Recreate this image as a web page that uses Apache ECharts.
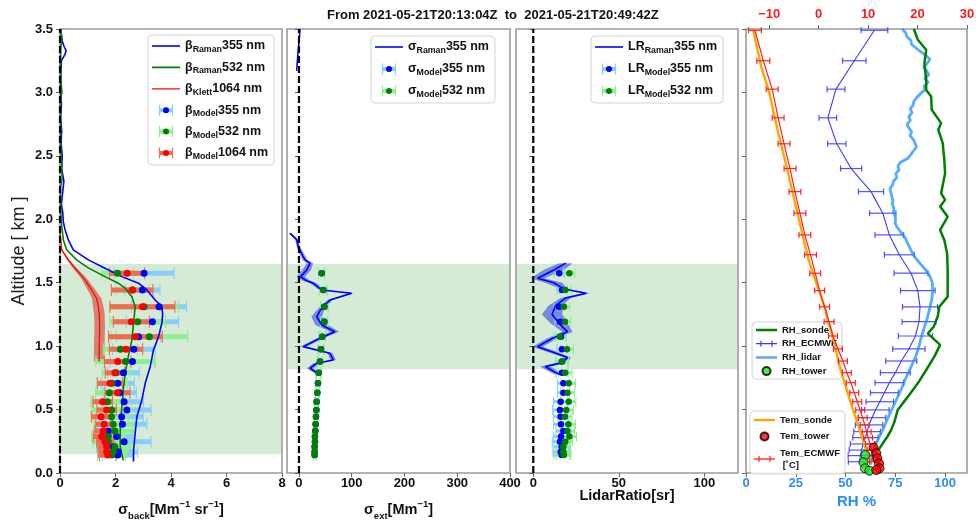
<!DOCTYPE html>
<html>
<head>
<meta charset="utf-8">
<script src="https://cdn.jsdelivr.net/npm/echarts/dist/echarts.min.js"></script>
<style>
  html, body { margin: 0; padding: 0; background: #ffffff; }
  #chart { width: 976px; height: 525px; }
</style>
</head>
<body>
<div id="chart"></div>
<script>
// ---------------------------------------------------------------
// Lidar aerosol profiles and humidity / temperature soundings
// ---------------------------------------------------------------
const TITLE = 'From 2021-05-21T20:13:04Z  to  2021-05-21T20:49:42Z';

// Aerosol layer limits used for the model retrieval (km)
const LAYER_BACK = [0.147, 1.648];
const LAYER_EXT = [0.818, 1.648];
const ZERO_LINE_ALT = [0, 3.5];

// Model retrieval levels (km)
const ALT_MODEL = [1.575, 1.443, 1.31, 1.193, 1.075, 0.975, 0.878, 0.79, 0.707, 0.633,
                   0.562, 0.497, 0.444, 0.384, 0.331, 0.287, 0.247, 0.207, 0.168, 0.142];

// Backscatter, model (Mm-1 sr-1)
const BETA_MODEL_355 = [3.03, 2.97, 3.57, 3.33, 2.83, 2.66, 2.61, 2.29, 2.08, 2.15,
                        2.31, 2.41, 2.22, 2.25, 1.74, 2.04, 2.31, 1.92, 2.10, 2.08];
const BETA_ERR_355 = [1.08, 0.63, 0.99, 0.94, 0.80, 0.77, 0.80, 0.57, 0.60, 0.60,
                      0.70, 0.87, 0.78, 0.88, 0.50, 0.60, 0.97, 0.60, 0.70, 0.55];
const BETA_MODEL_532 = [2.07, 2.62, 3.03, 2.80, 3.22, 2.18, 2.36, 2.02, 1.88, 1.78,
                        1.71, 1.86, 1.86, 1.92, 1.98, 1.74, 1.74, 1.98, 1.92, 1.86];
const BETA_ERR_532 = [0.57, 0.60, 1.24, 1.00, 1.38, 0.62, 1.07, 0.50, 0.55, 0.50,
                      0.60, 0.70, 0.60, 0.70, 0.70, 0.60, 0.55, 0.60, 0.50, 0.50];
const BETA_MODEL_1064 = [2.42, 2.60, 2.97, 2.57, 2.72, 2.38, 2.08, 1.98, 1.80, 2.07,
                         1.54, 1.68, 1.48, 1.59, 1.56, 1.50, 1.62, 1.68, 1.68, 1.72];
const BETA_ERR_1064 = [0.63, 0.75, 1.17, 0.65, 0.97, 0.60, 0.48, 0.35, 0.45, 0.45,
                       0.35, 0.35, 0.35, 0.30, 0.30, 0.30, 0.30, 0.30, 0.30, 0.30];

// Backscatter, Raman 355 nm
const ALT_RAMAN_355 = [3.50, 3.42, 3.36, 3.33, 3.30, 3.25, 3.15, 3.00, 2.90, 2.80, 2.70, 2.60, 2.50, 2.40,
                       2.30, 2.22, 2.12, 2.05, 1.98, 1.92, 1.837, 1.759, 1.68, 1.614, 1.548, 1.496, 1.443,
                       1.364, 1.312, 1.25, 1.18, 1.075, 0.97, 0.838, 0.707, 0.576, 0.444, 0.313, 0.181, 0.09];
const BETA_RAMAN_355 = [0.03, 0.06, 0.15, 0.22, 0.18, 0.05, 0.03, 0.02, 0.05, 0.02, 0.06, 0.04, 0.08, 0.06,
                        0.14, 0.10, 0.05, 0.10, 0.12, 0.18, 0.30, 0.48, 1.02, 1.62, 2.23, 2.83, 3.13,
                        3.43, 3.67, 3.70, 3.67, 3.55, 3.37, 3.25, 3.07, 2.95, 2.77, 2.71, 2.65, 2.65];
// Backscatter, Raman 532 nm
const ALT_RAMAN_532 = [3.50, 3.42, 3.36, 3.20, 3.10, 3.00, 2.95, 2.60, 2.32, 2.25, 2.05, 1.95, 1.837, 1.76,
                       1.68, 1.617, 1.548, 1.496, 1.457, 1.39, 1.31, 1.18, 1.049, 0.917, 0.786, 0.655,
                       0.523, 0.365, 0.207, 0.10];
const BETA_RAMAN_532 = [0.02, 0.08, 0.03, 0.02, 0.03, 0.07, 0.02, 0.02, 0.08, 0.02, 0.03, 0.06, 0.12, 0.24,
                        0.60, 1.02, 1.62, 2.10, 2.35, 2.59, 2.71, 2.65, 2.59, 2.46, 2.35, 2.28,
                        2.23, 2.17, 2.17, 2.28];
// Backscatter, Klett 1064 nm
const ALT_KLETT = [1.92, 1.85, 1.76, 1.68, 1.614, 1.55, 1.522, 1.443, 1.378, 1.31, 1.25, 1.15, 1.05, 0.95, 0.878];
const BETA_KLETT_1064 = [0.00, 0.02, 0.06, 0.30, 0.54, 0.80, 0.90, 1.14, 1.32, 1.38, 1.42, 1.43, 1.42, 1.41, 1.41];
const BETA_KLETT_ERR = [0.01, 0.02, 0.03, 0.05, 0.07, 0.10, 0.11, 0.14, 0.17, 0.19, 0.19, 0.19, 0.19, 0.19, 0.19];

// Extinction (Mm-1)
const ALT_EXT_RAMAN = [3.50, 3.42, 3.33, 3.25, 3.17, 2.50, 1.89, 1.84, 1.785, 1.73, 1.68, 1.654, 1.60, 1.548,
                       1.522, 1.496, 1.443, 1.417, 1.364, 1.299, 1.233, 1.167, 1.114, 1.062, 0.996, 0.97,
                       0.944, 0.891, 0.865, 0.826, 0.773];
const EXT_RAMAN_355 = [2.0, 0.5, -1.5, -3.0, -4.4, null, -17, -4.4, -1.3, 5.0, 11.4, 20.9, 14.6, 3.2,
                       11.4, 27, 43, 99.9, 58.8, 43, 33.5, 43, 68, 39.8, 8.2, 33.5,
                       58.8, 65, 33.5, 20.9, 39.8];
const EXT_RAMAN_ERR = [0, 0, 0, 0, 0, null, 3, 3, 3, 4, 5, 6, 8, 8,
                       8, 6, 5, 4, 5, 6, 10, 12, 8, 6, 6, 6,
                       5, 5, 6, 6, 5];
const EXT_MODEL_355 = [43, 46, 48, 48, 44.2, 41.7, 39.8, 37.3, 36, 34.8,
                       33.5, 33, 32.2, 31.6, 31, 30.3, 30.3, 29.7, 29.7, 29.7];
const EXT_MODEL_532 = [43, 46, 48, 48, 44.2, 41.7, 39.8, 37.3, 36, 34.8,
                       33.5, 33, 32.2, 31.6, 31, 30.3, 30.3, 29.7, 29.7, 29.7];
const EXT_MODEL_ERR = [6, 7, 7, 6.5, 6, 5.5, 5, 4.5, 4, 3.5,
                       3.2, 3, 3, 2.8, 2.6, 2.5, 2.5, 2.5, 2.5, 2.5];

// Lidar ratio (sr)
const ALT_LR_RAMAN = [1.654, 1.60, 1.535, 1.50, 1.45, 1.417, 1.38, 1.32, 1.25, 1.18, 1.114, 1.06,
                      0.996, 0.96, 0.91, 0.87, 0.84, 0.80, 0.775];
const LR_RAMAN_355 = [19, 12, 2.5, 12, 18, 31, 19, 13, 11, 15, 20, 11, 2.5, 10, 20, 17, 7, 12, 16];
const LR_RAMAN_ERR = [4, 6, 4, 5, 2, 2, 3, 4, 6, 5, 3, 3, 3, 3, 2, 3, 3, 3, 3];
const LR_MODEL_355 = [15.2, 16.8, 15.0, 15.6, 16.2, 16.8, 16.8, 16.8, 17.6, 17.6,
                      16.0, 15.6, 16.0, 16.2, 17.6, 16.2, 15.6, 16.6, 16.0, 16.6];
const LR_ERR_355 = [3, 3, 3, 3, 3, 3, 3.5, 3.5, 3.5, 3.5,
                    4.2, 4.3, 4.3, 4.4, 4.4, 4.5, 4.5, 4.5, 4.5, 4.5];
const LR_MODEL_532 = [21.1, 18.7, 17.9, 18.5, 15.6, 19.7, 16.8, 18.7, 20.7, 20.0,
                      20.7, 19.3, 18.5, 20.5, 19.9, 21.1, 18.7, 17.6, 17.6, 17.9];
const LR_ERR_532 = [3.2, 3.5, 3.5, 3.5, 3.8, 3.8, 3.8, 4, 4, 4,
                    4.2, 4.2, 4.2, 4.2, 4.2, 4.2, 4.2, 4.2, 4.2, 4.2];

// ECMWF profile levels (km), relative humidity (%) and temperature (deg C)
const ALT_ECMWF = [3.49, 3.25, 3.026, 2.80, 2.595, 2.40, 2.218, 2.048, 1.877, 1.72,
                   1.575, 1.438, 1.31, 1.193, 1.08, 0.978, 0.883, 0.791, 0.712, 0.633,
                   0.562, 0.497, 0.436, 0.379, 0.326, 0.279, 0.229, 0.181, 0.137, 0.089];
const RH_ECMWF = [64.5, 54.4, 45.2, 41.1, 45.6, 52.8, 62.8, 68.7, 72.0, 77.0,
                  82.9, 86.3, 87.4, 86.9, 85.1, 81.8, 78.0, 75.0, 72.0, 69.5,
                  67.2, 65.0, 63.3, 61.8, 60.8, 60.0, 58.8, 58.1, 57.4, 57.1];
const RH_ECMWF_ERR = [6.7, 5.9, 4.5, 4.4, 4.6, 5.3, 6.3, 6.6, 7.2, 7.5,
                      8.5, 8.7, 8.8, 8.5, 8.6, 8.1, 7.8, 7.5, 7.2, 7.0,
                      6.9, 6.9, 6.9, 6.9, 6.7, 6.4, 6.4, 6.3, 6.1, 5.7];
const TEM_ECMWF = [-12.9, -11.2, -9.4, -8.2, -7.0, -5.8, -4.8, -3.8, -2.8, -1.65,
                   -0.7, 0.2, 1.2, 2.1, 2.9, 3.9, 4.9, 5.7, 6.5, 7.2,
                   7.8, 8.4, 8.9, 9.3, 9.7, 10.0, 10.4, 10.7, 11.0, 11.2];
const TEM_ECMWF_ERR = [1.3, 1.3, 1.2, 1.2, 1.2, 1.2, 1.2, 1.2, 1.2, 1.2,
                       1.1, 1.0, 1.0, 1.0, 0.9, 0.9, 0.9, 0.9, 0.9, 0.9,
                       0.9, 0.9, 0.9, 0.9, 0.9, 0.9, 0.9, 0.9, 0.9, 0.9];

// Radiosonde
const ALT_RH_SONDE = [3.50, 3.415, 3.336, 3.231, 3.10, 3.02, 2.968, 2.863, 2.758, 2.705, 2.60, 2.468, 2.363,
                      2.205, 2.153, 2.10, 2.02, 1.916, 1.837, 1.732, 1.60, 1.50, 1.39, 1.31, 1.233, 1.154,
                      1.10, 1.01, 0.917, 0.812, 0.707, 0.602, 0.497, 0.40, 0.34, 0.286, 0.234, 0.181];
const RH_SONDE = [84.3, 86.3, 90.5, 89.6, 90.5, 90.5, 93.0, 93.3, 98.0, 96.6, 98.8, 99.6, 100.0,
                  98.0, 100.0, 97.5, 101.3, 97.5, 99.6, 101.0, 101.3, 101.3, 101.3, 97.1, 96.3, 94.3,
                  91.3, 97.5, 94.6, 90.5, 86.3, 81.3, 76.2, 74.5, 72.9, 71.0, 68.7, 66.5];
const ALT_TEM_SONDE = [3.5, 3.2, 3.0, 2.7, 2.4, 2.1, 1.9, 1.69, 1.5, 1.3, 1.19, 1.114, 1.0, 0.838,
                       0.576, 0.339, 0.128, 0.08];
const TEM_SONDE = [-13.3, -11.6, -10.0, -8.3, -6.4, -4.6, -3.4, -2.1, -0.5, 1.3, 1.9, 2.6, 3.3, 4.25,
                   6.3, 8.3, 10.0, 10.6];

// Lidar-derived relative humidity
const ALT_RH_LIDAR = [3.50, 3.47, 3.44, 3.41, 3.38, 3.35, 3.32, 3.29, 3.26, 3.23, 3.20, 3.17, 3.14, 3.11,
                      3.08, 3.05, 3.02, 2.99, 2.96, 2.93, 2.90, 2.87, 2.84, 2.81, 2.78, 2.75, 2.72, 2.69,
                      2.66, 2.63, 2.60, 2.57, 2.54, 2.51, 2.48, 2.45, 2.42, 2.39, 2.36, 2.33, 2.30, 2.27,
                      2.24, 2.21, 2.18, 2.15, 2.12, 2.09, 2.06, 2.03, 2.00, 1.97, 1.94, 1.91, 1.88, 1.85,
                      1.82, 1.79, 1.76, 1.73, 1.70, 1.65, 1.60, 1.55, 1.50, 1.43, 1.36, 1.30, 1.23, 1.15,
                      1.07, 1.00, 0.92, 0.84, 0.76, 0.68, 0.60, 0.52, 0.44, 0.36, 0.28, 0.20, 0.14, 0.08];
const RH_LIDAR = [78.5, 80.2, 80.8, 82.9, 83.1, 85.4, 87.8, 90.6, 92.4, 91.0, 89.2, 90.8, 91.9, 89.7,
                  91.5, 89.4, 89.9, 87.6, 85.8, 84.3, 83.9, 82.5, 83.4, 81.7, 82.6, 80.9, 81.8, 83.2,
                  82.4, 84.0, 84.9, 85.6, 84.2, 82.8, 81.2, 77.6, 76.3, 76.9, 75.2, 75.8, 74.1, 73.6,
                  72.3, 72.8, 73.2, 73.8, 73.5, 74.3, 74.0, 74.8, 75.1, 74.9, 75.8, 77.2, 78.6, 80.1,
                  80.8, 81.9, 82.7, 83.8, 84.9, 87.5, 90.3, 92.4, 93.6, 93.8, 93.2, 92.3, 91.2, 89.6,
                  88.0, 86.9, 85.3, 83.0, 80.6, 78.5, 76.2, 73.8, 71.4, 69.3, 66.8, 64.5, 63.4, 62.8];

// Tower station
const ALT_TOWER_RH = [0.142, 0.084, 0.037, 0.018];
const RH_TOWER = [60.0, 59.0, 59.8, 62.0];
const ALT_TOWER_TEM = [0.20, 0.155, 0.116, 0.076, 0.037, 0.024];
const TEM_TOWER = [11.1, 11.65, 11.85, 12.2, 12.3, 11.65];

// Axis ticks
const Y_TICK_INTERVAL = 0.5;
const EXT_TICKS = [0, 100, 200, 300, 400];
const LR_TICKS = [0, 50, 100];
const RH_TICKS = [0, 25, 50, 75, 100];
const TEM_TICKS = [-10, 0, 10, 20, 30];

// ---------------------------------------------------------------
const FONT = '"Liberation Sans", Arial, Helvetica, sans-serif';
const INK = '#111111';
const SHADE = 'rgba(0,128,0,0.16)';
const RH_BLUE = '#2b8cff';

function pairs(vals, alts) {
  return vals.map((v, i) => [v == null ? '-' : v, alts[i]]);
}

// horizontal error bars with end caps
function errorBars(axisX, axisY, vals, alts, errs, color, barW, capH, capW, z) {
  return {
    type: 'custom', xAxisIndex: axisX, yAxisIndex: axisY, silent: true, z: z,
    data: vals.map((v, i) => [v, alts[i], errs[i]]),
    encode: { x: 0, y: 1 },
    renderItem: function (params, api) {
      const v = api.value(0), a = api.value(1), e = api.value(2);
      const l = api.coord([v - e, a]);
      const r = api.coord([v + e, a]);
      const h = capH / 2;
      return {
        type: 'group',
        children: [
          { type: 'line', shape: { x1: l[0], y1: l[1], x2: r[0], y2: r[1] }, style: { stroke: color, lineWidth: barW } },
          { type: 'line', shape: { x1: l[0], y1: l[1] - h, x2: l[0], y2: l[1] + h }, style: { stroke: color, lineWidth: capW } },
          { type: 'line', shape: { x1: r[0], y1: r[1] - h, x2: r[0], y2: r[1] + h }, style: { stroke: color, lineWidth: capW } }
        ]
      };
    }
  };
}

// uncertainty envelope around a profile (gaps where the value is missing)
function envelope(axisX, axisY, vals, alts, errs, fill, z) {
  return {
    type: 'custom', xAxisIndex: axisX, yAxisIndex: axisY, silent: true, z: z,
    data: vals.map((v, i) => [v == null ? '-' : v, alts[i]]),
    encode: { x: 0, y: 1 },
    renderItem: function (params, api) {
      if (params.dataIndex !== 0) return null;
      const polys = [];
      let run = [];
      const flush = function () {
        if (run.length > 1) {
          const right = run.map(i => api.coord([vals[i] + errs[i], alts[i]]));
          const left = run.map(i => api.coord([vals[i] - errs[i], alts[i]])).reverse();
          polys.push({ type: 'polygon', shape: { points: right.concat(left) }, style: { fill: fill } });
        }
        run = [];
      };
      vals.forEach((v, i) => { if (v == null) flush(); else run.push(i); });
      flush();
      return { type: 'group', children: polys };
    }
  };
}

// shaded aerosol layer across the whole panel width
function layerShade(idx, layer) {
  return {
    type: 'custom', xAxisIndex: idx, yAxisIndex: idx, silent: true, z: 1,
    data: [[0, layer[0], layer[1]]],
    encode: { x: 0, y: [1, 2] },
    renderItem: function (params, api) {
      const cs = params.coordSys;
      const top = api.coord([0, api.value(2)])[1];
      const bottom = api.coord([0, api.value(1)])[1];
      return { type: 'rect', shape: { x: cs.x + 1, y: top, width: cs.width - 2, height: bottom - top }, style: { fill: SHADE } };
    }
  };
}

function zeroLine(idx) {
  return {
    type: 'line', xAxisIndex: idx, yAxisIndex: idx, silent: true, z: 8,
    data: ZERO_LINE_ALT.map(a => [0, a]), symbol: 'none',
    lineStyle: { color: '#000', width: 2.2, type: [7, 3] }
  };
}

function profile(name, axisX, axisY, vals, alts, color, width, z) {
  return {
    name: name, type: 'line', xAxisIndex: axisX, yAxisIndex: axisY, z: z || 5,
    data: pairs(vals, alts), symbol: 'none', showSymbol: false, connectNulls: false,
    lineStyle: { color: color, width: width }, itemStyle: { color: color }
  };
}

function dots(name, axisX, axisY, vals, alts, color, size, z, border) {
  return {
    name: name, type: 'scatter', xAxisIndex: axisX, yAxisIndex: axisY, z: z || 6,
    data: pairs(vals, alts), symbol: 'circle', symbolSize: size,
    itemStyle: border ? { color: color, borderColor: '#000', borderWidth: 1 } : { color: color, opacity: 1 }
  };
}

// legend glyphs
function svgIcon(body, w, h) {
  const svg = '<svg xmlns="http://www.w3.org/2000/svg" width="' + w + '" height="' + h + '" viewBox="0 0 ' + w + ' ' + h + '">' + body + '</svg>';
  return 'image://data:image/svg+xml;charset=utf-8,' + encodeURIComponent(svg);
}
function modelIcon(bar, dot) {
  const c = 14, y = 7;
  return svgIcon(
    '<line x1="' + (c - 6.5) + '" y1="' + y + '" x2="' + (c + 6.5) + '" y2="' + y + '" stroke="' + bar + '" stroke-width="4"/>' +
    '<line x1="' + (c - 6.5) + '" y1="1.5" x2="' + (c - 6.5) + '" y2="12.5" stroke="' + bar + '" stroke-width="1.2"/>' +
    '<line x1="' + (c + 6.5) + '" y1="1.5" x2="' + (c + 6.5) + '" y2="12.5" stroke="' + bar + '" stroke-width="1.2"/>' +
    '<circle cx="' + c + '" cy="' + y + '" r="3" fill="' + dot + '"/>', 28, 14);
}
function lineIcon(color, width, w, h) {
  return svgIcon('<line x1="0" y1="' + (h / 2) + '" x2="' + w + '" y2="' + (h / 2) + '" stroke="' + color +
    '" stroke-width="' + width + '"/>', w, h);
}
function capLineIcon(color) {
  return svgIcon(
    '<line x1="0" y1="4" x2="21" y2="4" stroke="' + color + '" stroke-width="1.3"/>' +
    '<line x1="5" y1="1" x2="5" y2="7" stroke="' + color + '" stroke-width="1.2"/>' +
    '<line x1="16" y1="1" x2="16" y2="7" stroke="' + color + '" stroke-width="1.2"/>', 21, 8);
}

const LEG_RICH = {
  m: { fontSize: 12.5, fontWeight: 'bold', lineHeight: 16, color: INK, fontFamily: FONT },
  b: { fontSize: 8.8, fontWeight: 'bold', lineHeight: 8, verticalAlign: 'bottom', color: INK, fontFamily: FONT }
};
const AXIS_RICH = {
  m: { fontSize: 14.5, fontWeight: 'bold', lineHeight: 22, color: INK, fontFamily: FONT },
  b: { fontSize: 9.5, fontWeight: 'bold', lineHeight: 10, verticalAlign: 'bottom', color: INK, fontFamily: FONT },
  p: { fontSize: 9.5, fontWeight: 'bold', lineHeight: 10, verticalAlign: 'top', color: INK, fontFamily: FONT }
};
const LEG_TEXT = {
  'β_Raman 355 nm': '{m|β}{b|Raman}{m|355 nm}',
  'β_Raman 532 nm': '{m|β}{b|Raman}{m|532 nm}',
  'β_Klett 1064 nm': '{m|β}{b|Klett}{m|1064 nm}',
  'β_Model 355 nm': '{m|β}{b|Model}{m|355 nm}',
  'β_Model 532 nm': '{m|β}{b|Model}{m|532 nm}',
  'β_Model 1064 nm': '{m|β}{b|Model}{m|1064 nm}',
  'σ_Raman 355 nm': '{m|σ}{b|Raman}{m|355 nm}',
  'σ_Model 355 nm': '{m|σ}{b|Model}{m|355 nm}',
  'σ_Model 532 nm': '{m|σ}{b|Model}{m|532 nm}',
  'LR_Raman 355 nm': '{m|LR}{b|Raman}{m|355 nm}',
  'LR_Model 355 nm': '{m|LR}{b|Model}{m|355 nm}',
  'LR_Model 532 nm': '{m|LR}{b|Model}{m|532 nm}',
  'Tem_ECMWF': 'Tem_ECMWF\n [˚C]'
};

const GRIDS = [
  { left: 60, top: 29, width: 222, height: 444 },
  { left: 287, top: 29, width: 223, height: 444 },
  { left: 516, top: 29, width: 222, height: 444 },
  { left: 746, top: 29, width: 221, height: 444 }
];

const tick = { show: true, length: 4, lineStyle: { color: '#666', width: 1 } };
const lbl = { fontSize: 13, fontWeight: 'bold', color: INK, fontFamily: FONT, margin: 4 };
const noSplit = { show: false };
const noLine = { show: false };

const xAxes = [
  {
    gridIndex: 0, type: 'value', min: 0, max: 8, interval: 2,
    axisLine: noLine, axisTick: tick, splitLine: noSplit,
    axisLabel: Object.assign({}, lbl, { showMinLabel: true, showMaxLabel: true }),
    name: '{m|σ}{b|back}{m|[Mm}{p|−1}{m| sr}{p|−1}{m|]}',
    nameLocation: 'middle', nameGap: 26, nameMoveOverlap: false,
    nameTextStyle: { rich: AXIS_RICH }
  },
  {
    gridIndex: 1, type: 'value', min: -22.7, max: 400,
    axisLine: noLine, splitLine: noSplit,
    axisTick: Object.assign({}, tick, { customValues: EXT_TICKS }),
    axisLabel: Object.assign({}, lbl, { customValues: EXT_TICKS }),
    name: '{m|σ}{b|ext}{m|[Mm}{p|−1}{m|]}',
    nameLocation: 'middle', nameGap: 26, nameMoveOverlap: false,
    nameTextStyle: { rich: AXIS_RICH }
  },
  {
    gridIndex: 2, type: 'value', min: -10.1, max: 119.7,
    axisLine: noLine, splitLine: noSplit,
    axisTick: Object.assign({}, tick, { customValues: LR_TICKS }),
    axisLabel: Object.assign({}, lbl, { customValues: LR_TICKS }),
    name: 'LidarRatio[sr]', nameLocation: 'middle', nameGap: 15, nameMoveOverlap: false,
    nameTextStyle: { fontSize: 14.5, fontWeight: 'bold', color: INK, fontFamily: FONT }
  },
  {
    gridIndex: 3, type: 'value', position: 'bottom', min: 0, max: 111,
    axisLine: noLine, splitLine: noSplit,
    axisTick: Object.assign({}, tick, { customValues: RH_TICKS }),
    axisLabel: Object.assign({}, lbl, { customValues: RH_TICKS, color: RH_BLUE }),
    name: 'RH %', nameLocation: 'middle', nameGap: 21, nameMoveOverlap: false,
    nameTextStyle: { fontSize: 15, fontWeight: 'bold', color: RH_BLUE, fontFamily: FONT }
  },
  {
    gridIndex: 3, type: 'value', position: 'top', min: -14.7, max: 30,
    axisLine: noLine, splitLine: noSplit,
    axisTick: Object.assign({}, tick, { customValues: TEM_TICKS }),
    axisLabel: Object.assign({}, lbl, {
      customValues: TEM_TICKS, color: '#ff1a1a', margin: 8,
      formatter: v => String(v).replace('-', '−')
    })
  }
];

const yAxes = GRIDS.map((g, i) => ({
  gridIndex: i, type: 'value', min: 0, max: 3.5, interval: Y_TICK_INTERVAL,
  axisLine: noLine, axisTick: tick, splitLine: noSplit,
  axisLabel: i === 0
    ? Object.assign({}, lbl, { margin: 7, formatter: v => v.toFixed(1), showMinLabel: true, showMaxLabel: true })
    : { show: false },
  name: i === 0 ? 'Altitude [ km ]' : '',
  nameLocation: 'middle', nameGap: 32, nameMoveOverlap: false,
  nameTextStyle: { fontSize: 18, fontWeight: 'normal', color: '#222', fontFamily: FONT }
}));

const legendBox = {
  orient: 'vertical', selectedMode: false,
  borderColor: '#d4d4d4', borderWidth: 1, borderRadius: 4,
  backgroundColor: 'rgba(255,255,255,0.85)',
  formatter: n => LEG_TEXT[n] || n
};

const legends = [
  Object.assign({}, legendBox, {
    left: 148, top: 35, padding: [4, 6, 4, 4], itemWidth: 28, itemHeight: 14, itemGap: 6.4,
    textStyle: { rich: LEG_RICH },
    data: [
      { name: 'β_Raman 355 nm', icon: lineIcon('#0000ff', 1.6, 28, 14) },
      { name: 'β_Raman 532 nm', icon: lineIcon('#008000', 1.6, 28, 14) },
      { name: 'β_Klett 1064 nm', icon: lineIcon('#ff0000', 1.2, 28, 14) },
      { name: 'β_Model 355 nm', icon: modelIcon('#87cefa', '#0000ff') },
      { name: 'β_Model 532 nm', icon: modelIcon('#90ee90', '#008000') },
      { name: 'β_Model 1064 nm', icon: modelIcon('#f26a50', '#ff0000') }
    ]
  }),
  Object.assign({}, legendBox, {
    left: 371, top: 36, padding: [4, 6, 4, 4], itemWidth: 28, itemHeight: 14, itemGap: 7,
    textStyle: { rich: LEG_RICH },
    data: [
      { name: 'σ_Raman 355 nm', icon: lineIcon('#0000ff', 1.6, 28, 14) },
      { name: 'σ_Model 355 nm', icon: modelIcon('#87cefa', '#0000ff') },
      { name: 'σ_Model 532 nm', icon: modelIcon('#90ee90', '#008000') }
    ]
  }),
  Object.assign({}, legendBox, {
    left: 591, top: 36, padding: [4, 6, 4, 4], itemWidth: 28, itemHeight: 14, itemGap: 7,
    textStyle: { rich: LEG_RICH },
    data: [
      { name: 'LR_Raman 355 nm', icon: lineIcon('#0000ff', 1.6, 28, 14) },
      { name: 'LR_Model 355 nm', icon: modelIcon('#87cefa', '#0000ff') },
      { name: 'LR_Model 532 nm', icon: modelIcon('#90ee90', '#008000') }
    ]
  }),
  Object.assign({}, legendBox, {
    left: 752, top: 322, padding: [3, 5, 3, 4], itemWidth: 21, itemHeight: 8, itemGap: 3.7,
    textStyle: { fontSize: 9.5, fontWeight: 'bold', color: INK, fontFamily: FONT },
    data: [
      { name: 'RH_sonde', icon: lineIcon('#008000', 2.5, 21, 8) },
      { name: 'RH_ECMWF', icon: capLineIcon('#3b3bff') },
      { name: 'RH_lidar', icon: lineIcon('#5aa9ff', 2.5, 21, 8) },
      { name: 'RH_tower' }
    ]
  }),
  Object.assign({}, legendBox, {
    left: 750, top: 411, padding: [3, 5, 3, 4], itemWidth: 21, itemHeight: 8, itemGap: 4.5,
    textStyle: { fontSize: 9.5, fontWeight: 'bold', color: INK, fontFamily: FONT, lineHeight: 12 },
    data: [
      { name: 'Tem_sonde', icon: lineIcon('#ffa500', 2.4, 21, 8) },
      { name: 'Tem_tower' },
      { name: 'Tem_ECMWF', icon: capLineIcon('#ff2020') }
    ]
  })
];

const series = [
  // panel 1 : backscatter
  layerShade(0, LAYER_BACK),
  envelope(0, 0, BETA_KLETT_1064, ALT_KLETT, BETA_KLETT_ERR, 'rgba(215,60,40,0.6)', 2),
  errorBars(0, 0, BETA_MODEL_355, ALT_MODEL, BETA_ERR_355, '#87cefa', 5, 12, 1.1, 3),
  errorBars(0, 0, BETA_MODEL_532, ALT_MODEL, BETA_ERR_532, '#90ee90', 5, 12, 1.1, 3),
  errorBars(0, 0, BETA_MODEL_1064, ALT_MODEL, BETA_ERR_1064, '#f26a50', 5, 12, 1.1, 3),
  profile('β_Raman 355 nm', 0, 0, BETA_RAMAN_355, ALT_RAMAN_355, '#0000ff', 1.6, 4),
  profile('β_Raman 532 nm', 0, 0, BETA_RAMAN_532, ALT_RAMAN_532, '#008000', 1.6, 4),
  profile('β_Klett 1064 nm', 0, 0, BETA_KLETT_1064, ALT_KLETT, '#ff0000', 1.2, 4),
  dots('β_Model 355 nm', 0, 0, BETA_MODEL_355, ALT_MODEL, '#0000ff', 7, 6),
  dots('β_Model 532 nm', 0, 0, BETA_MODEL_532, ALT_MODEL, '#008000', 7, 6),
  dots('β_Model 1064 nm', 0, 0, BETA_MODEL_1064, ALT_MODEL, '#ff0000', 7, 6),
  zeroLine(0),

  // panel 2 : extinction
  layerShade(1, LAYER_EXT),
  envelope(1, 1, EXT_RAMAN_355, ALT_EXT_RAMAN, EXT_RAMAN_ERR, 'rgba(20,40,230,0.5)', 2),
  errorBars(1, 1, EXT_MODEL_355, ALT_MODEL, EXT_MODEL_ERR, '#87cefa', 1.2, 11, 1, 3),
  errorBars(1, 1, EXT_MODEL_532, ALT_MODEL, EXT_MODEL_ERR, '#90ee90', 1.2, 11, 1, 3),
  profile('σ_Raman 355 nm', 1, 1, EXT_RAMAN_355, ALT_EXT_RAMAN, '#0000ff', 1.6, 4),
  dots('σ_Model 355 nm', 1, 1, EXT_MODEL_355, ALT_MODEL, '#0000ff', 6.5, 6),
  dots('σ_Model 532 nm', 1, 1, EXT_MODEL_532, ALT_MODEL, '#008000', 6.5, 6),
  zeroLine(1),

  // panel 3 : lidar ratio
  layerShade(2, LAYER_EXT),
  envelope(2, 2, LR_RAMAN_355, ALT_LR_RAMAN, LR_RAMAN_ERR, 'rgba(20,40,230,0.5)', 2),
  errorBars(2, 2, LR_MODEL_355, ALT_MODEL, LR_ERR_355, '#87cefa', 3, 10, 1, 3),
  errorBars(2, 2, LR_MODEL_532, ALT_MODEL, LR_ERR_532, '#90ee90', 3, 10, 1, 3),
  profile('LR_Raman 355 nm', 2, 2, LR_RAMAN_355, ALT_LR_RAMAN, '#0000ff', 1.6, 4),
  dots('LR_Model 355 nm', 2, 2, LR_MODEL_355, ALT_MODEL, '#0000ff', 6.5, 6),
  dots('LR_Model 532 nm', 2, 2, LR_MODEL_532, ALT_MODEL, '#008000', 6.5, 6),
  zeroLine(2),

  // panel 4 : humidity (bottom axis) and temperature (top axis)
  errorBars(3, 3, RH_ECMWF, ALT_ECMWF, RH_ECMWF_ERR, 'rgba(40,40,255,0.8)', 1.2, 6, 1.2, 3),
  profile('RH_ECMWF', 3, 3, RH_ECMWF, ALT_ECMWF, '#3b3bff', 1.1, 4),
  profile('RH_lidar', 3, 3, RH_LIDAR, ALT_RH_LIDAR, 'rgba(30,144,255,0.75)', 2.8, 4),
  profile('RH_sonde', 3, 3, RH_SONDE, ALT_RH_SONDE, '#008000', 2.5, 4),
  profile('Tem_sonde', 4, 3, TEM_SONDE, ALT_TEM_SONDE, '#ffa500', 2.4, 4),
  errorBars(4, 3, TEM_ECMWF, ALT_ECMWF, TEM_ECMWF_ERR, '#ff2020', 1.2, 6, 1.2, 5),
  profile('Tem_ECMWF', 4, 3, TEM_ECMWF, ALT_ECMWF, '#ff2020', 1.2, 5),
  dots('RH_tower', 3, 3, RH_TOWER, ALT_TOWER_RH, '#22e022', 9, 7, true),
  dots('Tem_tower', 4, 3, TEM_TOWER, ALT_TOWER_TEM, '#ff0000', 9, 7, true)
];

const option = {
  animation: false,
  backgroundColor: '#ffffff',
  textStyle: { fontFamily: FONT },
  title: {
    text: TITLE, left: 322, top: 4,
    textStyle: { fontSize: 13, fontWeight: 'bold', color: INK, fontFamily: FONT }
  },
  grid: GRIDS.map(g => Object.assign({}, g, {
    show: true, borderColor: '#9b9b9b', borderWidth: 1.6,
    backgroundColor: 'transparent', containLabel: false, outerBoundsMode: 'none'
  })),
  xAxis: xAxes,
  yAxis: yAxes,
  legend: legends,
  series: series
};

const chart = echarts.init(document.getElementById('chart'), null, { renderer: 'canvas', width: 976, height: 525 });
chart.setOption(option);
</script>
</body>
</html>
